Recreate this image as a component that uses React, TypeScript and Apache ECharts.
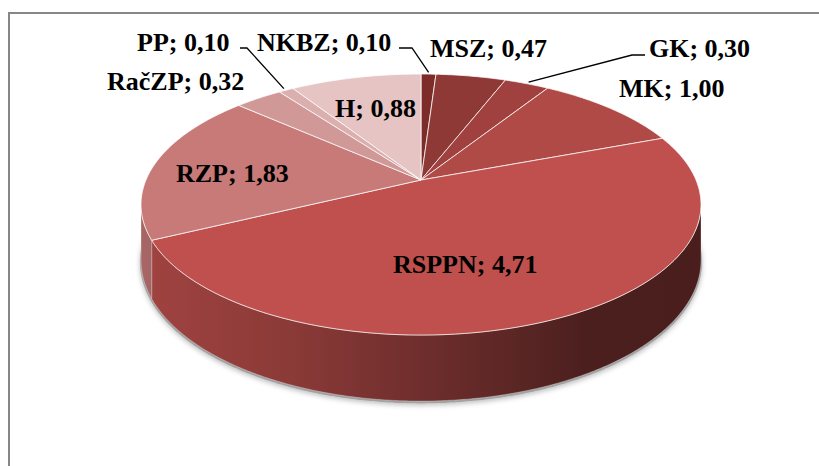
import React, { useEffect, useRef } from 'react';
import * as echarts from 'echarts';

// ---- data ----
const categories = ['NKBZ', 'MSZ', 'GK', 'MK', 'RSPPN', 'RZP', 'RačZP', 'PP', 'H'];
const values = [0.1, 0.47, 0.3, 1.0, 4.71, 1.83, 0.32, 0.1, 0.88];
const colors = ['#7d2c2a', '#8f3937', '#a1413f', '#b04a47', '#c0504d', '#c77a78', '#d09997', '#daafad', '#e5c4c3'];

// ---- label layout (text left x, baseline y, optional leader elbow) ----
const labelLayout: Record<string, { x: number; y: number; elbow?: [number, number][] }> = {
  NKBZ: { x: 257, y: 51, elbow: [[399, 48], [412, 48]] },
  MSZ: { x: 430, y: 57 },
  GK: { x: 649, y: 57, elbow: [[645, 55], [632, 55]] },
  MK: { x: 619, y: 97 },
  RSPPN: { x: 393, y: 273 },
  RZP: { x: 176, y: 182 },
  'RačZP': { x: 107, y: 90 },
  PP: { x: 137, y: 51, elbow: [[240, 48], [247, 48]] },
  H: { x: 335, y: 117 },
};

// ---- 3D projection parameters ----
const CX = 421;
const CY = 180;
const RA = 275;
const RB = 125.9;
const K = 0.188;
const DEPTH = 53.6;
const FONT_SIZE = 26;

function proj(deg: number, r = 1, drop = 0): [number, number] {
  const t = (deg * Math.PI) / 180;
  const u = r * Math.sin(t);
  const v = -r * Math.cos(t);
  const den = 1 - K * v;
  return [CX + (RA * u) / den, CY + (RB * v + DEPTH * drop) / den];
}

function arc(a: number, b: number, drop = 0, r = 1): [number, number][] {
  const pts: [number, number][] = [];
  const n = Math.max(2, Math.ceil(Math.abs(b - a) / 0.5));
  for (let i = 0; i <= n; i++) pts.push(proj(a + ((b - a) * i) / n, r, drop));
  return pts;
}

function shade(hex: string, f: number): string {
  const n = parseInt(hex.slice(1), 16);
  const r = Math.round(((n >> 16) & 255) * f);
  const g = Math.round(((n >> 8) & 255) * f);
  const b = Math.round((n & 255) * f);
  return `rgb(${r},${g},${b})`;
}

const SIDE_A = (Math.acos(-K) * 180) / Math.PI; // ~100.8
const SIDE_B = 360 - SIDE_A;

export default function App() {
  const ref = useRef<HTMLDivElement>(null);
  useEffect(() => {
    document.body.style.margin = '0';
    const chart = echarts.init(ref.current!, undefined, { renderer: 'svg' });
    const total = values.reduce((s, v) => s + v, 0);
    const starts: number[] = [];
    let acc = 0;
    values.forEach((v) => {
      starts.push((acc / total) * 360);
      acc += v;
    });

    const renderItem = (params: any, api: any) => {
      const i = params.dataIndex;
      const val = api.value(0) as number;
      const a0 = starts[i];
      const a1 = a0 + (val / total) * 360;
      const color = colors[i];
      const name = categories[i];
      const children: any[] = [];

      if (i === 0) {
        // soft shadow under the pie
        children.push({
          type: 'polygon',
          z2: 0,
          shape: { points: arc(0, 360, 1, 1.004).map(([x, y]) => [x, y + 1.5]) },
          style: {
            fill: 'rgba(120,120,120,0.55)',
            shadowBlur: 5,
            shadowColor: 'rgba(0,0,0,0.45)',
            shadowOffsetY: 2,
          },
          silent: true,
        });
      }

      // side wall
      const s0 = Math.max(a0, SIDE_A);
      const s1 = Math.min(a1, SIDE_B);
      if (s1 > s0) {
        const top = arc(s0, s1, 0);
        const bot = arc(s1, s0, 1);
        children.push({
          type: 'polygon',
          z2: 5,
          shape: { points: top.concat(bot) },
          style: {
            fill: new echarts.graphic.LinearGradient(
              141, 0, 701, 0,
              [
                { offset: 0, color: shade(color, 0.84) },
                { offset: 0.27, color: shade(color, 0.72) },
                { offset: 0.5, color: shade(color, 0.58) },
                { offset: 0.69, color: shade(color, 0.46) },
                { offset: 0.8, color: shade(color, 0.39) },
                { offset: 1, color: shade(color, 0.38) },
              ],
              true
            ),
            stroke: 'rgba(255,255,255,0.35)',
            lineWidth: 0.8,
          },
        });
      }

      // top face
      const topPts: [number, number][] = [[CX, CY] as [number, number]].concat(arc(a0, a1, 0));
      children.push({
        type: 'polygon',
        z2: 10,
        shape: { points: topPts },
        style: {
          fill: color,
          stroke: 'rgba(255,255,255,0.75)',
          lineWidth: 1,
          lineJoin: 'round',
        },
      });

      // label
      const lay = labelLayout[name];
      const txt = `${name}; ${val.toFixed(2).replace('.', ',')}`;
      children.push({
        type: 'text',
        z2: 30,
        x: lay.x,
        y: lay.y - 0.33 * FONT_SIZE,
        style: {
          text: txt,
          fill: '#000',
          font: `bold ${FONT_SIZE}px "Liberation Serif", "Times New Roman", serif`,
          textAlign: 'left',
          textVerticalAlign: 'middle',
        },
      });

      // leader line
      if (lay.elbow) {
        const mid = (a0 + a1) / 2;
        const rim = proj(mid, 1.02, 0);
        children.push({
          type: 'polyline',
          z2: 25,
          shape: { points: [lay.elbow[0], lay.elbow[1], rim] },
          style: { stroke: '#000', lineWidth: 1.3, fill: 'none' },
        });
      }

      return { type: 'group', children };
    };

    chart.setOption({
      animation: false,
      backgroundColor: '#ffffff',
      graphic: [
        {
          type: 'rect',
          shape: { x: 9, y: 13, width: 900, height: 600 },
          style: { fill: 'none', stroke: '#878787', lineWidth: 2 },
          silent: true,
          z: -1,
        },
      ],
      series: [
        {
          type: 'custom',
          coordinateSystem: 'none',
          renderItem,
          data: values.map((v, i) => ({ name: categories[i], value: [v] })),
          silent: true,
        },
      ],
    });
    return () => chart.dispose();
  }, []);
  return <div ref={ref} style={{ width: 819, height: 466 }} />;
}
